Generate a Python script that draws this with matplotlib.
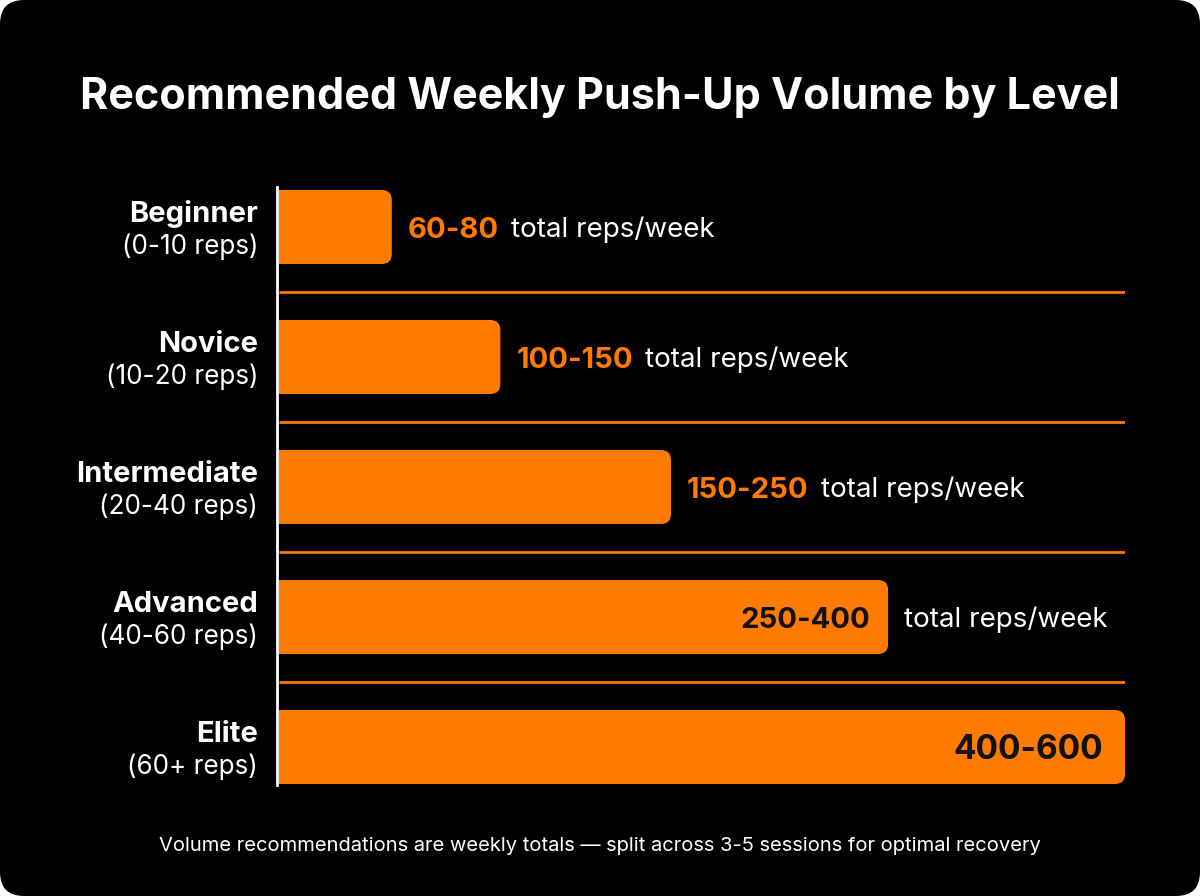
import matplotlib.pyplot as plt
from matplotlib.patches import FancyBboxPatch, Rectangle

# ---- data ----
levels = ["Beginner", "Novice", "Intermediate", "Advanced", "Elite"]
rep_ranges = ["(0-10 reps)", "(10-20 reps)", "(20-40 reps)", "(40-60 reps)", "(60+ reps)"]
volume_labels = ["60-80", "100-150", "150-250", "250-400", "400-600"]
bar_lengths = [80, 157, 278, 432, 600]   # bar lengths as drawn (weekly reps scale)
label_inside = [False, False, False, True, True]
show_suffix = [True, True, True, True, False]

ORANGE = "#FF7A00"
BG = "#000000"
plt.rcParams['font.family'] = ['Inter', 'DejaVu Sans']

W, H = 1200, 896
fig = plt.figure(figsize=(W / 100, H / 100), dpi=100, facecolor="white")

# rounded black card
card = FancyBboxPatch((0, 0), 1, 1, boxstyle="round,pad=0,rounding_size=0.02",
                      mutation_aspect=W / H, transform=fig.transFigure,
                      facecolor=BG, edgecolor="none", zorder=-10)
fig.patches.append(card)

fig.text(0.5, 1 - 97 / H, "Recommended Weekly Push-Up Volume by Level",
         ha="center", va="center", color="white", fontsize=31, fontweight="bold")
fig.text(0.5, 1 - 846 / H,
         "Volume recommendations are weekly totals \u2014 split across 3-5 sessions for optimal recovery",
         ha="center", va="center", color="white", fontsize=14.5)

# axes: x 0..600 mapped to px 279..1125, rows spaced 130px
ax = fig.add_axes([279 / W, (H - 812) / H, 846 / W, 650 / H])
ax.set_xlim(0, 600)
ax.set_ylim(4.5, -0.5)
ax.axis("off")

xpx = 600 / 846          # data units per pixel (x)
ypx = 1 / 130            # data units per pixel (y)
bar_h = 74 * ypx
r = 10 * xpx

for i, v in enumerate(bar_lengths):
    top = i - bar_h / 2
    ax.add_patch(FancyBboxPatch((0, top), v, bar_h,
                                boxstyle=f"round,pad=0,rounding_size={r}",
                                mutation_aspect=ypx / xpx,
                                facecolor=ORANGE, edgecolor="none", zorder=2))
    ax.add_patch(Rectangle((0, top), v / 2, bar_h, facecolor=ORANGE,
                           edgecolor="none", zorder=2))

    # category labels
    ax.annotate(levels[i], xy=(0, i), xytext=(-21, 13), textcoords="offset pixels",
                ha="right", va="center", color="white", fontsize=21, fontweight="bold")
    ax.annotate(rep_ranges[i], xy=(0, i), xytext=(-21, -20), textcoords="offset pixels",
                ha="right", va="center", color="white", fontsize=18.8)

    # value labels
    if label_inside[i]:
        size = 24 if i == len(levels) - 1 else 21
        num = ax.annotate(volume_labels[i], xy=(v, i), xytext=(-22 if size > 21 else -18, -3),
                          textcoords="offset pixels", ha="right", va="center",
                          color="#111111", fontsize=size, fontweight="bold", zorder=3)
        if show_suffix[i]:
            ax.annotate("total reps/week", xy=(v, i), xytext=(16, -3),
                        textcoords="offset pixels", ha="left", va="center",
                        color="white", fontsize=20)
    else:
        num = ax.annotate(volume_labels[i], xy=(v, i), xytext=(16, -3),
                          textcoords="offset pixels", ha="left", va="center",
                          color=ORANGE, fontsize=21, fontweight="bold")
        if show_suffix[i]:
            ax.annotate("total reps/week", xy=(1, 0.5), xycoords=num, xytext=(12, 0),
                        textcoords="offset pixels", ha="left", va="center",
                        color="white", fontsize=20)

# separators between rows
for i in range(len(levels) - 1):
    ax.plot([0, 600], [i + 0.5, i + 0.5], color=ORANGE, lw=2, zorder=1,
            solid_capstyle="butt")

# vertical axis line
ax.plot([-2 * xpx, -2 * xpx], [-0.31, 4.29], color="white", lw=2, zorder=3,
        clip_on=False)

fig.savefig("out.png", dpi=100, facecolor="white")
